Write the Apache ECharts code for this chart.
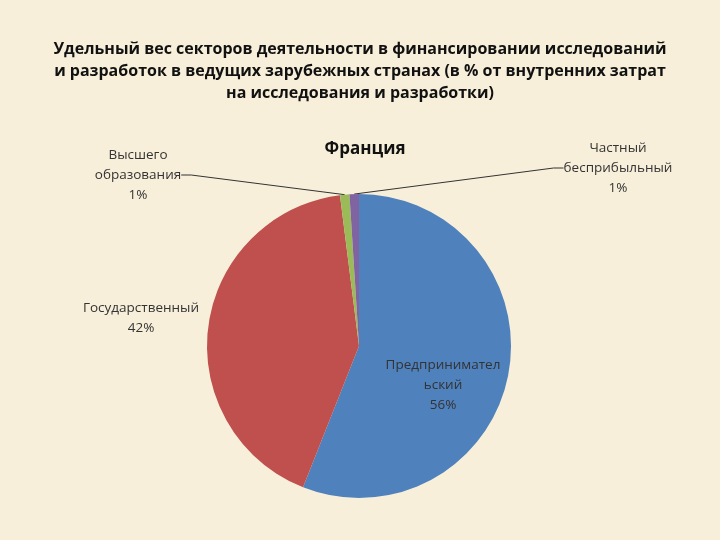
<!DOCTYPE html>
<html><head><meta charset="utf-8">
<script src="https://cdn.jsdelivr.net/npm/echarts@6/dist/echarts.min.js"></script>
<style>html,body{margin:0;padding:0;background:#f7efda;}#c{width:720px;height:540px;}</style>
</head><body><div id="c"></div>
<script>
var categories = ['Предпринимательский', 'Государственный', 'Высшего образования', 'Частный бесприбыльный'];
var labelTexts = ['Предпринимател\nьский', 'Государственный', 'Высшего\nобразования', 'Частный\nбесприбыльный'];
var values = [56, 42, 1, 1];
var colors = ['#4f81bd', '#c0504d', '#9bbb59', '#8064a2'];
var labelPos = [[443, 385, false], [141, 318, false], [138, 175, true], [618, 168, true]];

var chart = echarts.init(document.getElementById('c'));
chart.setOption({
  backgroundColor: '#f7efda',
  title: [{
    text: 'Удельный вес секторов деятельности в финансировании исследований\nи разработок в ведущих зарубежных странах (в % от внутренних затрат\nна исследования и разработки)',
    left: 'center', top: 33,
    textStyle: {fontFamily: 'Open Sans', fontSize: 16, fontWeight: 'bold', color: '#111', lineHeight: 22}
  }, {
    text: 'Франция', left: 360, top: 136, textAlign: 'center',
    textStyle: {fontFamily: 'Open Sans', fontSize: 17, fontWeight: 'bold', color: '#111'}
  }],
  series: [{
    type: 'pie', center: [359, 346], radius: 152, startAngle: 90, clockwise: true,
    data: categories.map(function (c, i) {
      return {name: c, value: values[i], itemStyle: {color: colors[i]},
        label: {formatter: labelTexts[i] + '\n' + values[i] + '%'},
        labelLine: {show: labelPos[i][2], lineStyle: {color: '#333', width: 1}}};
    }),
    label: {show: true, color: '#333', fontFamily: 'Open Sans', fontSize: 13.5, lineHeight: 20, align: 'center'},
    labelLine: {length: 10, length2: 10},
    labelLayout: function (p) {
      var q = labelPos[p.dataIndex];
      return {x: q[0], y: q[1], align: 'center', verticalAlign: 'middle'};
    },
    itemStyle: {borderColor: '#ffffff', borderWidth: 0},
    emphasis: {disabled: true}
  }]
});
</script></body></html>
